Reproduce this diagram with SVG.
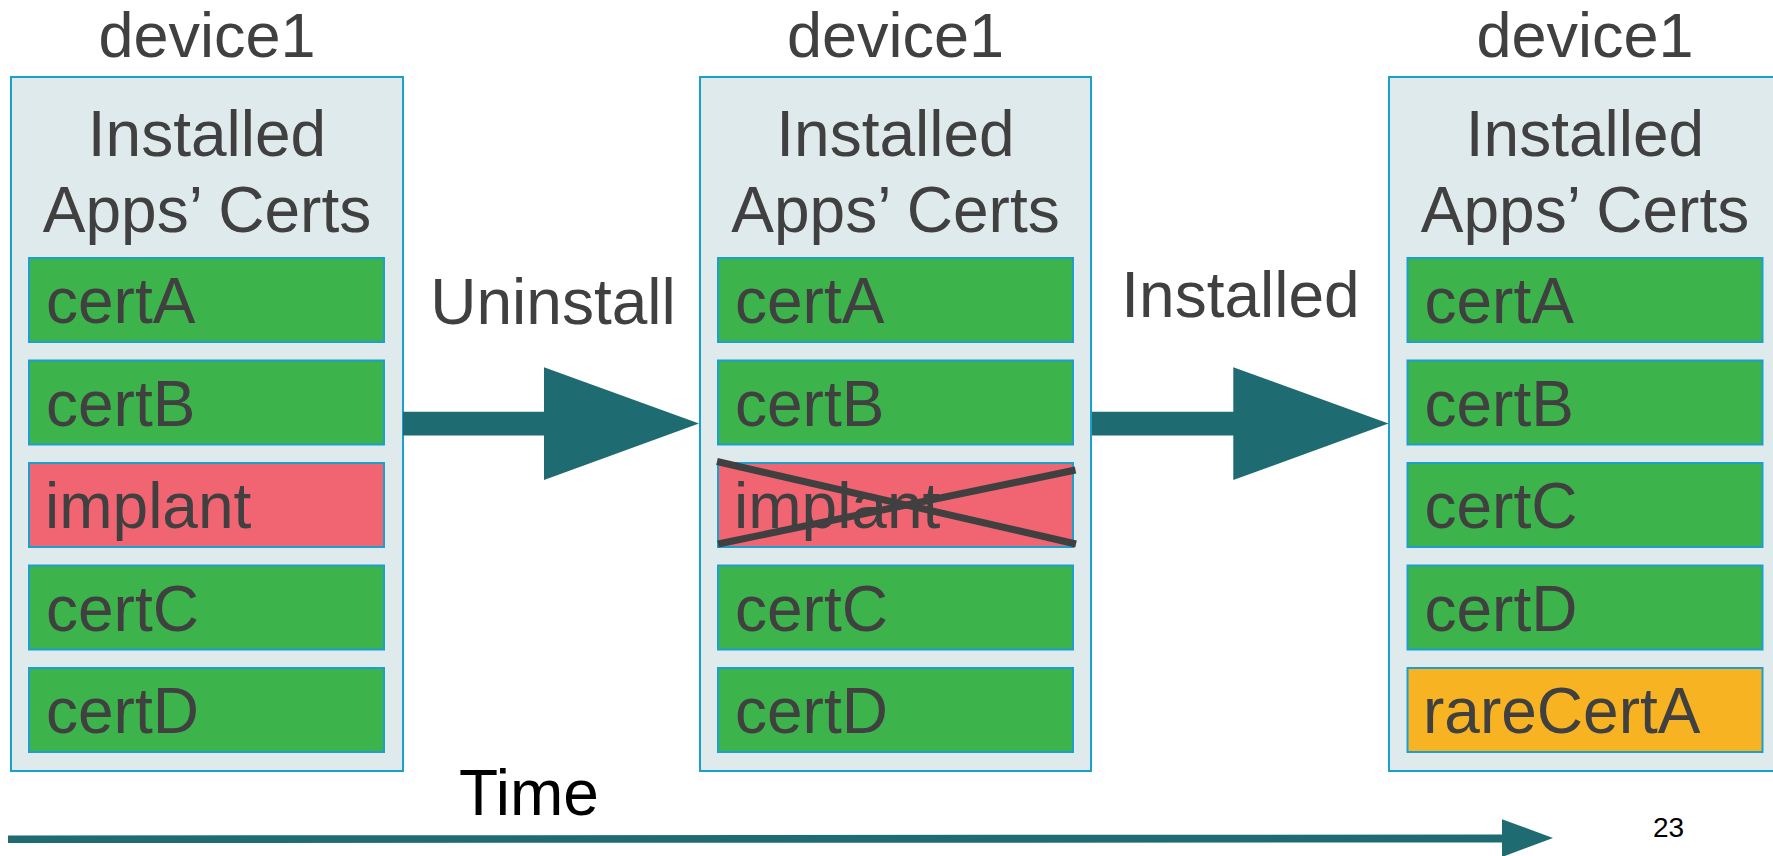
<svg xmlns="http://www.w3.org/2000/svg" width="1773" height="856" viewBox="0 0 1773 856">
<style>
.dev{fill:#dfeaed;stroke:#1d9fce;stroke-width:2}
.g{fill:#3cb34b;stroke:#1d9fce;stroke-width:2}
.r{fill:#f16472;stroke:#1d9fce;stroke-width:2}
.o{fill:#f7b321;stroke:#1d9fce;stroke-width:2}
text{font-family:"Liberation Sans",Arial,sans-serif;fill:#404040;font-size:64px}
.t{font-size:63px}
.c{text-anchor:middle}
.k{fill:#000}
.pg{font-size:28px}
.arrow{fill:#1e6b72}
.x{stroke:#404040;stroke-width:7;stroke-linecap:butt}
</style>
<rect width="1773" height="856" fill="#fff"/>
<g id="device-1">
<text class="c t" x="207" y="57">device1</text>
<rect class="dev" x="11" y="77" width="392" height="694"/>
<text class="c" x="207" y="156">Installed</text>
<text class="c" x="207" y="232">Apps’ Certs</text>
<rect class="g" x="29" y="258" width="355" height="84"/><text x="46" y="323">certA</text>
<rect class="g" x="29" y="360.5" width="355" height="84"/><text x="46" y="425.5">certB</text>
<rect class="r" x="29" y="463" width="355" height="84"/><text x="45" y="528">implant</text>
<rect class="g" x="29" y="565.5" width="355" height="84"/><text x="46" y="630.5">certC</text>
<rect class="g" x="29" y="668" width="355" height="84"/><text x="46" y="733">certD</text>
</g>
<g id="device-2">
<text class="c t" x="895.5" y="57">device1</text>
<rect class="dev" x="700" y="77" width="391" height="694"/>
<text class="c" x="895.5" y="156">Installed</text>
<text class="c" x="895.5" y="232">Apps’ Certs</text>
<rect class="g" x="718" y="258" width="355" height="84"/><text x="735" y="323">certA</text>
<rect class="g" x="718" y="360.5" width="355" height="84"/><text x="735" y="425.5">certB</text>
<rect class="r" x="718" y="463" width="355" height="84"/><text x="734" y="528">implant</text>
<rect class="g" x="718" y="565.5" width="355" height="84"/><text x="735" y="630.5">certC</text>
<rect class="g" x="718" y="668" width="355" height="84"/><text x="735" y="733">certD</text>
<line class="x" x1="717" y1="461.5" x2="1076" y2="544"/>
<line class="x" x1="718" y1="544" x2="1075.5" y2="470"/>
</g>
<g id="device-3">
<text class="c t" x="1585" y="57">device1</text>
<rect class="dev" x="1389" y="77" width="392" height="694"/>
<text class="c" x="1585" y="156">Installed</text>
<text class="c" x="1585" y="232">Apps’ Certs</text>
<rect class="g" x="1407.5" y="258" width="355" height="84"/><text x="1424.5" y="323">certA</text>
<rect class="g" x="1407.5" y="360.5" width="355" height="84"/><text x="1424.5" y="425.5">certB</text>
<rect class="g" x="1407.5" y="463" width="355" height="84"/><text x="1424.5" y="528">certC</text>
<rect class="g" x="1407.5" y="565.5" width="355" height="84"/><text x="1424.5" y="630.5">certD</text>
<rect class="o" x="1407.5" y="668" width="355" height="84"/><text x="1423" y="733">rareCertA</text>
</g>
<g id="connectors">
<polygon class="arrow" points="403,411.7 544,411.7 544,367.3 699,423.5 544,480 544,435.5 403,435.5"/>
<text class="c" x="553" y="323.5">Uninstall</text>
<polygon class="arrow" points="1092,411.7 1233.3,411.7 1233.3,367.3 1388.5,423.5 1233.3,480 1233.3,435.5 1092,435.5"/>
<text class="c" x="1240.5" y="317">Installed</text>
<polygon class="arrow" points="8,835.5 1502,834.5 1502,819.3 1553,838 1502,857 1502,842.5 8,843"/>
<text class="k" x="459" y="815">Time</text>
</g>
<text class="k pg" x="1653" y="837">23</text>
</svg>
